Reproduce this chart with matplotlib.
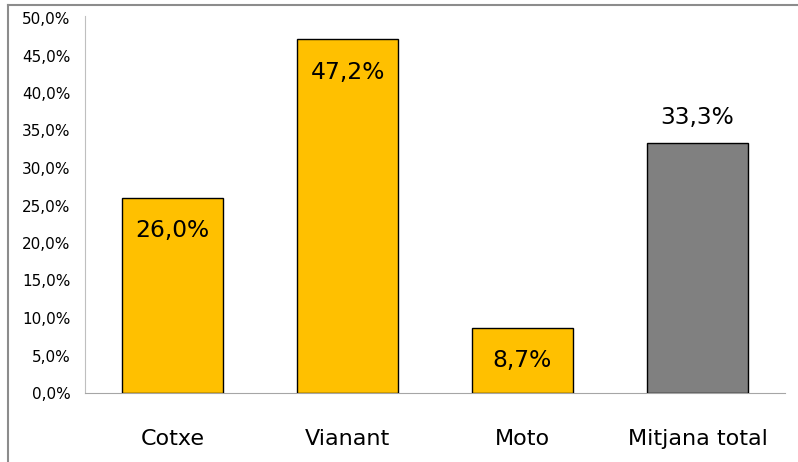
import matplotlib
matplotlib.use("Agg")
import matplotlib.pyplot as plt
from matplotlib.lines import Line2D

categories = ["Cotxe", "Vianant", "Moto", "Mitjana total"]
values = [26.0, 47.2, 8.7, 33.3]
labels = ["26,0%", "47,2%", "8,7%", "33,3%"]
colors = ["#FFC000", "#FFC000", "#FFC000", "#808080"]
yticks = [0, 5, 10, 15, 20, 25, 30, 35, 40, 45, 50]
ytick_labels = ["0,0%", "5,0%", "10,0%", "15,0%", "20,0%", "25,0%", "30,0%",
                "35,0%", "40,0%", "45,0%", "50,0%"]

plt.rcParams['font.family'] = ['DejaVu Sans']

fig = plt.figure(figsize=(7.98, 4.62), dpi=100)
ax = fig.add_axes([85/798, 1-393/462, 700/798, 375/462])

x = range(len(categories))
ax.bar(x, values, width=0.575, color=colors, edgecolor="black", linewidth=1.0, zorder=3)
ax.set_xlim(-0.5, len(categories)-0.5)
ax.set_ylim(0, 50)
ax.set_yticks(yticks)
ax.set_yticklabels(ytick_labels, fontsize=11)
ax.set_xticks(list(x))
ax.set_xticklabels(categories, fontsize=16)
ax.tick_params(axis='y', length=0, pad=10.5)
ax.tick_params(axis='x', length=0, pad=26)

for i, (v, lab) in enumerate(zip(values, labels)):
    off = 19 if i == 3 else -39.5
    ax.annotate(lab, (i, v), xytext=(0, off), textcoords="offset pixels",
                ha="center", va="baseline", fontsize=16.8)

for s in ["top", "right"]:
    ax.spines[s].set_visible(False)
ax.spines["left"].set_color("#BFBFBF")
ax.spines["bottom"].set_color("#A6A6A6")
ax.spines["left"].set_bounds(0, 50.3)

# outer chart border (partially visible)
fig.add_artist(Line2D([8/798, 8/798], [0, 1-5/462], transform=fig.transFigure,
                      color="#8C8C8C", linewidth=1.5))
fig.add_artist(Line2D([8/798, 1], [1-5/462, 1-5/462], transform=fig.transFigure,
                      color="#8C8C8C", linewidth=1.5))

fig.savefig("out.png", dpi=100)
